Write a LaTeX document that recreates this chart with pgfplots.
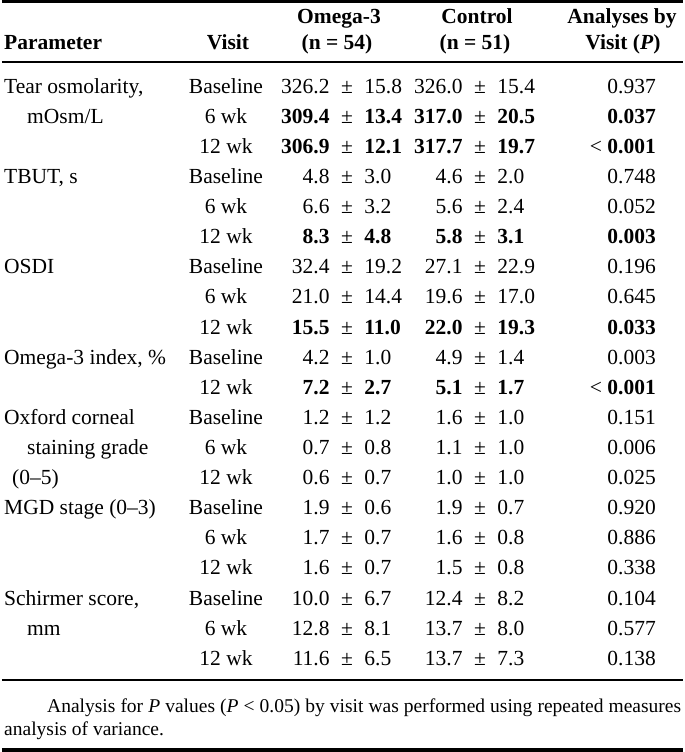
\documentclass[border=0pt]{standalone}
\usepackage{fontspec}
\setmainfont{Liberation Serif}
\usepackage{pgfplots}
\pgfplotsset{compat=1.18}

% row centre: y = 91 + 30.1*i
\newcommand\vis[2]{\node[anchor=mid] at (axis cs:224,{91+30.1*#1}) {#2};}
\newcommand\cell[5]{% x, i, mean, sd, weight
  \node[anchor=mid] at (axis cs:#1,{91+30.1*#2}) {\llap{#5#3\hspace{11.5pt}}±\rlap{\hspace{11.5pt}#5#4}};}
\newcommand\pval[2]{\node[anchor=mid east, inner sep=0pt] at (axis cs:654,{91+30.1*#1}) {#2};}
\newcommand\trow[8]{%
  \vis{#1}{#2}%
  \cell{345}{#1}{#3}{#4}{#8}%
  \cell{478}{#1}{#5}{#6}{#8}%
  \pval{#1}{#7}}
\newcommand\param[3]{\node[anchor=mid west, inner sep=0pt] at (axis cs:#1,{91+30.1*#2}) {#3};}

\begin{document}
\begin{tikzpicture}[font=\fontsize{21.5}{26}\selectfont]
\begin{axis}[width=681pt, height=752pt, scale only axis,
  xmin=0, xmax=681, ymin=0, ymax=752, y dir=reverse,
  hide axis, clip=false]
\addplot[draw=none] coordinates {(0,0) (681,752)};

% rules
\draw[line width=3pt] (axis cs:0,1.5) -- (axis cs:681,1.5);
\draw[line width=1.8pt] (axis cs:0,62) -- (axis cs:681,62);
\draw[line width=2pt] (axis cs:0,680) -- (axis cs:681,680);
\draw[line width=4pt] (axis cs:0,750) -- (axis cs:681,750);

% header
\begin{scope}[every node/.style={font=\fontsize{21.5}{26}\selectfont\bfseries}]
\node[anchor=mid west, inner sep=0pt] at (axis cs:2,47) {Parameter};
\node[anchor=mid] at (axis cs:226,47) {Visit};
\node[anchor=mid] at (axis cs:337,21) {Omega-3};
\node[anchor=mid] at (axis cs:335,47) {(n = 54)};
\node[anchor=mid] at (axis cs:475,21) {Control};
\node[anchor=mid] at (axis cs:473,47) {(n = 51)};
\node[anchor=mid] at (axis cs:620,21) {Analyses by};
\node[anchor=mid] at (axis cs:621,47) {Visit (\textit{P})};
\end{scope}

% parameter column
\param{2}{0}{Tear osmolarity,}
\param{25}{1}{mOsm/L}
\param{2}{3}{TBUT, s}
\param{2}{6}{OSDI}
\param{2}{9}{Omega-3 index, \%}
\param{2}{11}{Oxford corneal}
\param{25}{12}{staining grade}
\param{10}{13}{(0–5)}
\param{2}{14}{MGD stage (0–3)}
\param{2}{17}{Schirmer score,}
\param{25}{18}{mm}

% rows: i, visit, omega mean, sd, control mean, sd, P, weight
\trow{0}{Baseline}{326.2}{15.8}{326.0}{15.4}{0.937}{}
\trow{1}{6 wk}{309.4}{13.4}{317.0}{20.5}{\textbf{0.037}}{\bfseries}
\trow{2}{12 wk}{306.9}{12.1}{317.7}{19.7}{< \textbf{0.001}}{\bfseries}
\trow{3}{Baseline}{4.8}{3.0}{4.6}{2.0}{0.748}{}
\trow{4}{6 wk}{6.6}{3.2}{5.6}{2.4}{0.052}{}
\trow{5}{12 wk}{8.3}{4.8}{5.8}{3.1}{\textbf{0.003}}{\bfseries}
\trow{6}{Baseline}{32.4}{19.2}{27.1}{22.9}{0.196}{}
\trow{7}{6 wk}{21.0}{14.4}{19.6}{17.0}{0.645}{}
\trow{8}{12 wk}{15.5}{11.0}{22.0}{19.3}{\textbf{0.033}}{\bfseries}
\trow{9}{Baseline}{4.2}{1.0}{4.9}{1.4}{0.003}{}
\trow{10}{12 wk}{7.2}{2.7}{5.1}{1.7}{< \textbf{0.001}}{\bfseries}
\trow{11}{Baseline}{1.2}{1.2}{1.6}{1.0}{0.151}{}
\trow{12}{6 wk}{0.7}{0.8}{1.1}{1.0}{0.006}{}
\trow{13}{12 wk}{0.6}{0.7}{1.0}{1.0}{0.025}{}
\trow{14}{Baseline}{1.9}{0.6}{1.9}{0.7}{0.920}{}
\trow{15}{6 wk}{1.7}{0.7}{1.6}{0.8}{0.886}{}
\trow{16}{12 wk}{1.6}{0.7}{1.5}{0.8}{0.338}{}
\trow{17}{Baseline}{10.0}{6.7}{12.4}{8.2}{0.104}{}
\trow{18}{6 wk}{12.8}{8.1}{13.7}{8.0}{0.577}{}
\trow{19}{12 wk}{11.6}{6.5}{13.7}{7.3}{0.138}{}

% note
\node[anchor=base west, inner sep=0pt, font=\fontsize{19.5}{23}\selectfont] at (axis cs:45,712)
  {\makebox[634pt][s]{Analysis for \textit{P} values (\textit{P} < 0.05) by visit was performed using repeated measures}};
\node[anchor=base west, inner sep=0pt, font=\fontsize{19.5}{23}\selectfont] at (axis cs:2,735)
  {analysis of variance.};
\end{axis}
\end{tikzpicture}
\end{document}
